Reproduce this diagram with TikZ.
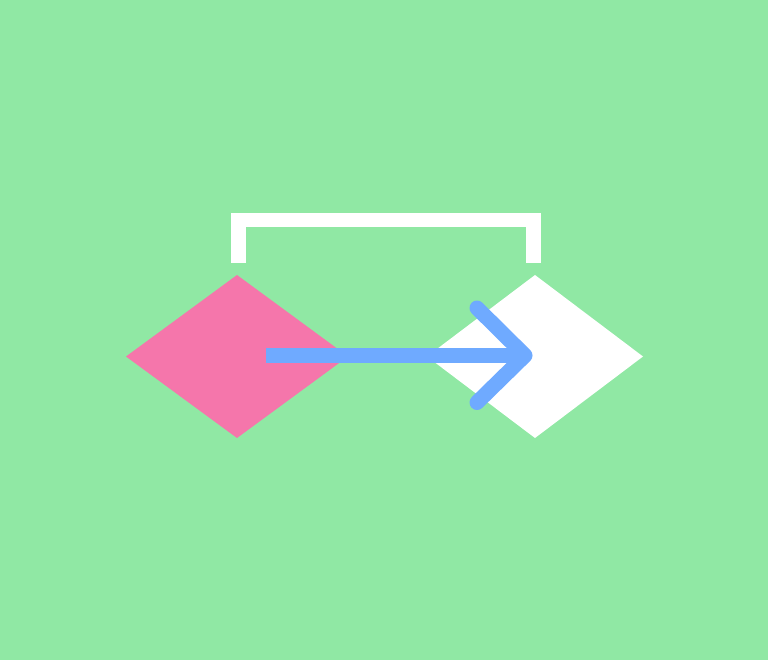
\documentclass[tikz,border=0pt]{standalone}
\usetikzlibrary{shapes.geometric,calc}
\definecolor{bg}{HTML}{90E8A4}
\definecolor{pinkc}{HTML}{F576AB}
\definecolor{bluec}{HTML}{6FAAFF}
\begin{document}
\begin{tikzpicture}[x=1pt,y=-1pt,
  dia/.style={diamond,minimum width=222pt,minimum height=163pt,inner sep=0pt,outer sep=0pt,draw=none},
  bracketline/.style={white,line width=14.5pt,line cap=butt,line join=miter},
  arrowline/.style={bluec,line width=15pt}]
\fill[bg] (0,0) rectangle (768,660);
\useasboundingbox (0,0) rectangle (768,660);
\node[dia,fill=pinkc] (a) at (237,356.5) {};
\node[dia,fill=white,minimum width=216pt] (b) at (535,356.5) {};
\coordinate (tip) at ($(b.center)+(-10,-1)$);
\draw[bracketline] ($(a.north)+(1.5,-12)$) -- ($(a.north)+(1.5,-55)$) -- ($(b.north)+(-1.5,-55)$) -- ($(b.north)+(-1.5,-12)$);
\draw[arrowline,line cap=butt] ($(a.center)+(29,-1)$) -- (tip);
\draw[arrowline,line cap=round,line join=round] ($(tip)+(-48,-47.5)$) -- (tip) -- ($(tip)+(-48,47)$);
\end{tikzpicture}
\end{document}
